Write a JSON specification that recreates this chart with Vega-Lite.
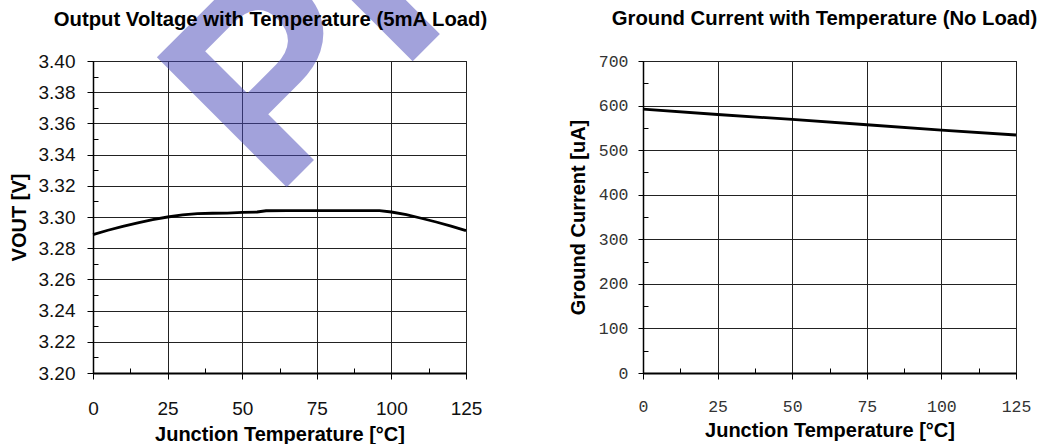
{
  "$schema": "https://vega.github.io/schema/vega-lite/v6.json",
  "padding": {"left": 8, "top": -215, "right": 5, "bottom": 0},
  "spacing": -8,
  "config": {
    "view": {"stroke": "#000", "strokeWidth": 1},
    "title": {"font": "Liberation Sans", "fontSize": 20.3, "fontWeight": "bold", "color": "#000", "offset": 30},
    "axis": {
      "gridColor": "#222", "gridWidth": 1, "gridOpacity": 1,
      "domainColor": "#000", "tickColor": "#000",
      "labelFlush": false, "labelOverlap": false,
      "titleFont": "Liberation Sans", "titleFontSize": 20, "titleFontWeight": "bold", "titleColor": "#000"
    }
  },
  "datasets": {
    "vout": [
      {"temp": 0, "vout": 3.2887}, {"temp": 5, "vout": 3.2915}, {"temp": 10, "vout": 3.2940},
      {"temp": 15, "vout": 3.2962}, {"temp": 20, "vout": 3.2983}, {"temp": 25, "vout": 3.3000},
      {"temp": 30, "vout": 3.3014}, {"temp": 35, "vout": 3.3021}, {"temp": 40, "vout": 3.3024},
      {"temp": 45, "vout": 3.3025}, {"temp": 50, "vout": 3.3030}, {"temp": 55, "vout": 3.3032},
      {"temp": 58, "vout": 3.3040}, {"temp": 65, "vout": 3.3041}, {"temp": 75, "vout": 3.3041},
      {"temp": 85, "vout": 3.3041}, {"temp": 96, "vout": 3.3041}, {"temp": 100, "vout": 3.3032},
      {"temp": 105, "vout": 3.3015}, {"temp": 110, "vout": 3.2992}, {"temp": 115, "vout": 3.2968},
      {"temp": 120, "vout": 3.2942}, {"temp": 125, "vout": 3.2913}
    ],
    "ignd": [
      {"temp": 0, "ignd": 592}, {"temp": 25, "ignd": 580}, {"temp": 50, "ignd": 569},
      {"temp": 75, "ignd": 557}, {"temp": 100, "ignd": 545}, {"temp": 125, "ignd": 534}
    ],
    "stamp": [
      {"label": "PR"}
    ]
  },
  "hconcat": [
    {
      "width": 373, "height": 312,
      "title": {"text": "Output Voltage with Temperature (5mA Load)", "dx": -9, "offset": -244},
      "layer": [
        {
          "data": {"name": "vout"},
          "mark": {"type": "line", "color": "#000", "strokeWidth": 2.8},
          "encoding": {
            "x": {"field": "temp", "type": "quantitative", "scale": {"domain": [0, 125], "nice": false},
              "axis": {"values": [0, 25, 50, 75, 100, 125], "grid": true, "tickSize": 6, "domainWidth": 2,
                "labelFont": "Liberation Sans", "labelFontSize": 19, "labelColor": "#111", "labelPadding": 20,
                "title": "Junction Temperature [°C]", "titlePadding": 6}},
            "y": {"field": "vout", "type": "quantitative", "scale": {"domain": [3.2, 3.4], "nice": false, "zero": false},
              "axis": {"values": [3.2, 3.22, 3.24, 3.26, 3.28, 3.3, 3.32, 3.34, 3.36, 3.38, 3.4], "format": ".2f",
                "grid": true, "tickSize": 6, "domainWidth": 1.5,
                "labelFont": "Liberation Sans", "labelFontSize": 19, "labelColor": "#111", "labelPadding": 12,
                "title": "VOUT [V]", "titlePadding": 9}}
          }
        },
        {
          "data": {"name": "vout"},
          "mark": {"type": "line", "opacity": 0},
          "encoding": {
            "x": {"field": "temp", "type": "quantitative",
              "axis": {"orient": "bottom", "values": [12.5, 37.5, 62.5, 87.5, 112.5], "tickSize": -5, "labels": false, "domain": false, "grid": false, "title": null}},
            "y": {"field": "vout", "type": "quantitative",
              "axis": {"orient": "left", "values": [3.21, 3.23, 3.25, 3.27, 3.29, 3.31, 3.33, 3.35, 3.37, 3.39], "tickSize": -5, "labels": false, "domain": false, "grid": false, "title": null}}
          }
        },
        {
          "data": {"name": "stamp"},
          "mark": {"type": "text", "font": "Liberation Sans", "fontWeight": "bold", "fontSize": 267,
            "angle": -45, "align": "left", "baseline": "alphabetic", "color": "#4848b8", "opacity": 0.5},
          "encoding": {
            "text": {"field": "label", "type": "nominal"},
            "x": {"datum": 60.7, "type": "quantitative", "axis": null},
            "y": {"datum": 3.311, "type": "quantitative", "axis": null}
          }
        }
      ],
      "resolve": {"axis": {"x": "independent", "y": "independent"}}
    },
    {
      "width": 373, "height": 312,
      "title": {"text": "Ground Current with Temperature (No Load)", "dx": -5, "offset": 24},
      "layer": [
        {
          "data": {"name": "ignd"},
          "mark": {"type": "line", "color": "#000", "strokeWidth": 2.8},
          "encoding": {
            "x": {"field": "temp", "type": "quantitative", "scale": {"domain": [0, 125], "nice": false},
              "axis": {"values": [0, 25, 50, 75, 100, 125], "grid": true, "tickSize": 6, "domainWidth": 2,
                "labelFont": "Liberation Mono", "labelFontSize": 16.5, "labelColor": "#333", "labelPadding": 19,
                "title": "Junction Temperature [°C]", "titlePadding": 6}},
            "y": {"field": "ignd", "type": "quantitative", "scale": {"domain": [0, 700], "nice": false},
              "axis": {"values": [0, 100, 200, 300, 400, 500, 600, 700],
                "grid": true, "tickSize": 5, "domainWidth": 1.5,
                "labelFont": "Liberation Mono", "labelFontSize": 16.5, "labelColor": "#333", "labelPadding": 10,
                "title": "Ground Current [uA]", "titlePadding": 10}}
          }
        },
        {
          "data": {"name": "ignd"},
          "mark": {"type": "line", "opacity": 0},
          "encoding": {
            "x": {"field": "temp", "type": "quantitative",
              "axis": {"orient": "bottom", "values": [12.5, 37.5, 62.5, 87.5, 112.5], "tickSize": -5, "labels": false, "domain": false, "grid": false, "title": null}},
            "y": {"field": "ignd", "type": "quantitative",
              "axis": {"orient": "left", "values": [50, 150, 250, 350, 450, 550, 650], "tickSize": -5, "labels": false, "domain": false, "grid": false, "title": null}}
          }
        }
      ],
      "resolve": {"axis": {"x": "independent", "y": "independent"}}
    }
  ]
}
